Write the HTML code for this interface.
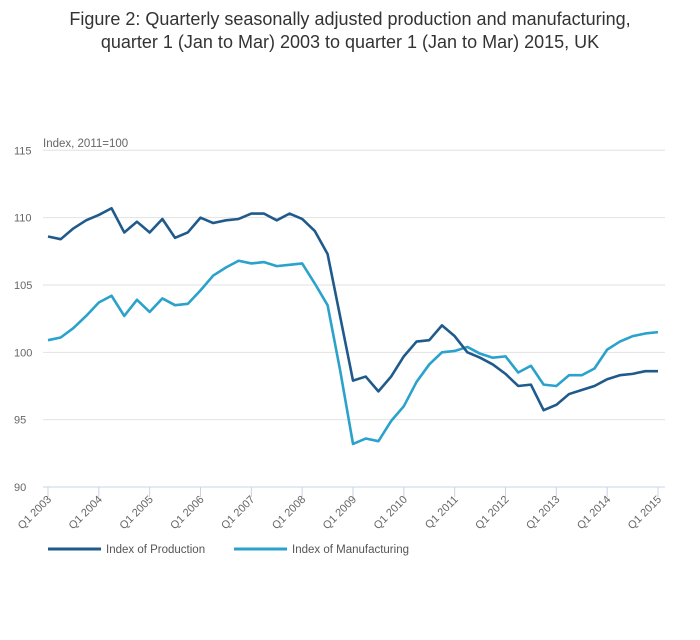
<!DOCTYPE html>
<html><head><meta charset="utf-8"><style>
body{margin:0;background:#fff;font-family:"Liberation Sans",sans-serif;}
svg text{font-family:"Liberation Sans",sans-serif;}
</style></head><body>
<svg width="700" height="635" xmlns="http://www.w3.org/2000/svg">
<text x="350" y="25" text-anchor="middle" font-size="18" fill="#333">Figure 2: Quarterly seasonally adjusted production and manufacturing,</text>
<text x="350" y="48" text-anchor="middle" font-size="18" fill="#333">quarter 1 (Jan to Mar) 2003 to quarter 1 (Jan to Mar) 2015, UK</text>
<text x="43" y="147" font-size="11.5" fill="#666">Index, 2011=100</text>
<g id="grid"></g><g id="xaxis"></g><g id="lines"></g>
<g>
<g><line x1="48" y1="549" x2="101" y2="549" stroke="#1f5a8c" stroke-width="3"/><text x="106" y="553" font-size="11.5" fill="#555">Index of Production</text></g>
<g><line x1="234" y1="549" x2="287" y2="549" stroke="#2aa2cc" stroke-width="3"/><text x="292" y="553" font-size="11.5" fill="#555">Index of Manufacturing</text></g>
</g>
</svg>
<script>
const years=[2003,2004,2005,2006,2007,2008,2009,2010,2011,2012,2013,2014,2015];
const yTicks=[90,95,100,105,110,115];
const production=[108.6,108.4,109.2,109.8,110.2,110.7,108.9,109.7,108.9,109.9,108.5,108.9,110.0,109.6,109.8,109.9,110.3,110.3,109.8,110.3,109.9,109.0,107.3,102.6,97.9,98.2,97.1,98.2,99.7,100.8,100.9,102.0,101.2,100.0,99.6,99.1,98.4,97.5,97.6,95.7,96.1,96.9,97.2,97.5,98.0,98.3,98.4,98.6,98.6];
const manufacturing=[100.9,101.1,101.8,102.7,103.7,104.2,102.7,103.9,103.0,104.0,103.5,103.6,104.6,105.7,106.3,106.8,106.6,106.7,106.4,106.5,106.6,105.1,103.5,98.6,93.2,93.6,93.4,94.9,96.0,97.8,99.1,100.0,100.1,100.4,99.9,99.6,99.7,98.5,99.0,97.6,97.5,98.3,98.3,98.8,100.2,100.8,101.2,101.4,101.5];
const NS="http://www.w3.org/2000/svg";
const X=i=>48+i*(658-48)/48;
const Y=v=>487-(v-90)*(487-150.3)/25;
function mk(t,a,p){const e=document.createElementNS(NS,t);for(const k in a)e.setAttribute(k,a[k]);p.appendChild(e);return e;}
const grid=document.getElementById('grid');
yTicks.forEach(v=>{
 if(v>90){const l=mk('line',{x1:43,x2:665,y1:Y(v),y2:Y(v),stroke:'#e2e2e2','stroke-width':1},grid);
 
 }
 const t=mk('text',{x:14,y:Y(v)+4,'font-size':11,fill:'#666'},grid);t.textContent=v;
 
 
});
const xa=document.getElementById('xaxis');
const ax=mk('line',{x1:43,x2:665,y1:487,y2:487,stroke:'#c8d4e4','stroke-width':1},xa);


years.forEach((y,k)=>{
 const x=X(k*4);
 mk('line',{x1:x,x2:x,y1:487,y2:497,stroke:'#c8d4e4'},xa);
 const t=mk('text',{x:x+4,y:500,'font-size':11,fill:'#666','text-anchor':'end',transform:`rotate(-45 ${x+4} 500)`},xa);
 t.textContent='Q1 '+y;
 
 
});
const lg=document.getElementById('lines');
[[manufacturing,'#2aa2cc','manufacturing-line'],[production,'#1f5a8c','production-line']].forEach(([d,c,n])=>{
 const p=mk('polyline',{points:d.map((v,i)=>X(i)+','+Y(v)).join(' '),fill:'none',stroke:c,'stroke-width':2.6,'stroke-linejoin':'round'},lg);
 
 
});
</script>
</body></html>
